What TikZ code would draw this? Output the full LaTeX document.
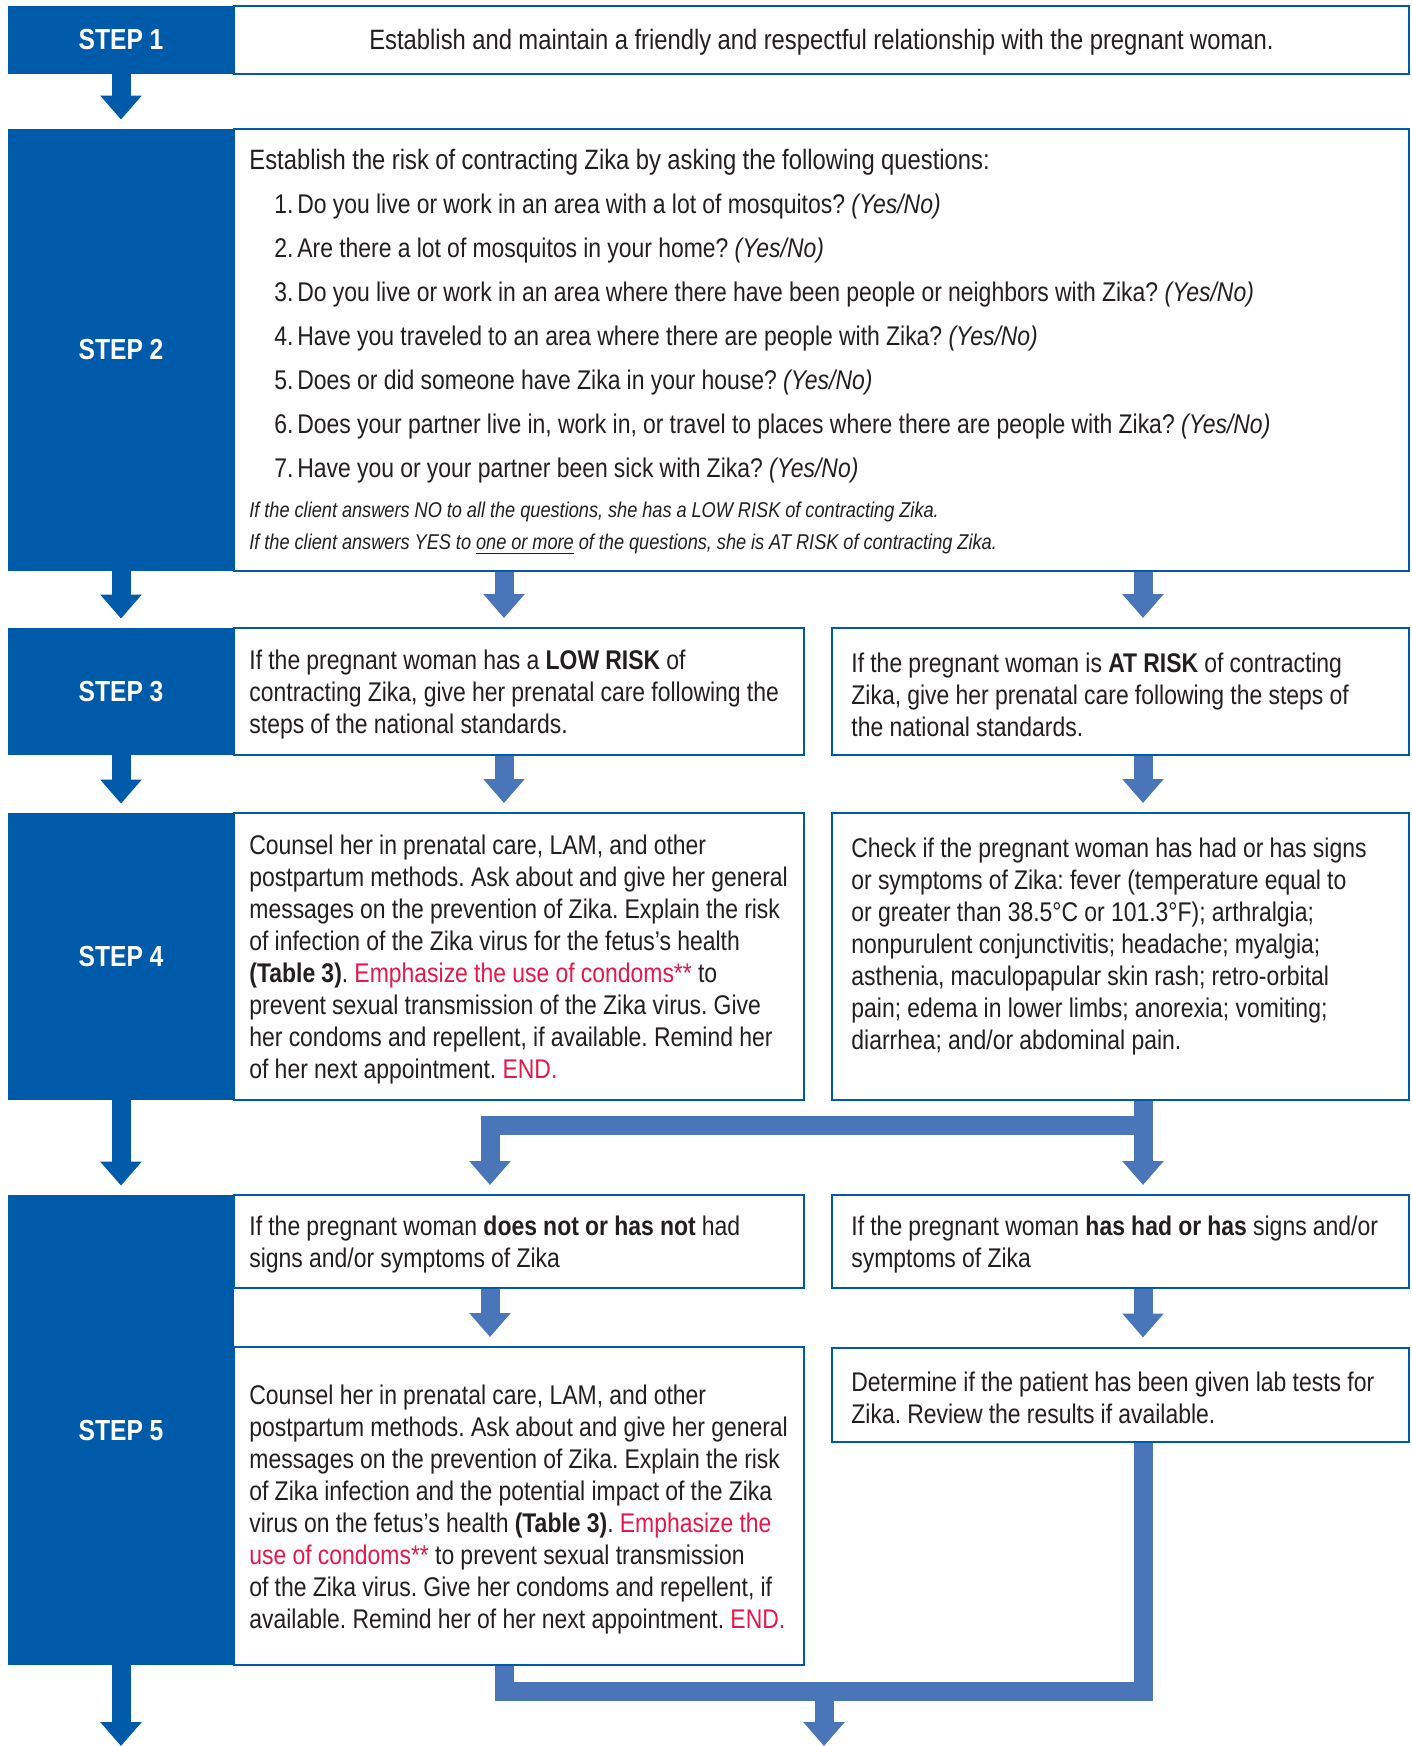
\documentclass[tikz,border=0pt]{standalone}
\usepackage{fontspec}
\setmainfont{Liberation Sans}[FakeStretch=0.85]
\usepackage{xcolor}
\usetikzlibrary{arrows.meta,positioning,calc}

\definecolor{stepblue}{RGB}{0,90,170}
\definecolor{arrowblue}{RGB}{75,117,185}
\definecolor{alertred}{RGB}{228,24,74}
\definecolor{bodytext}{RGB}{35,31,32}

\frenchspacing

\newcommand{\tightspace}{\spaceskip=0.23em plus 0.05em minus 0.03em\relax}
\newcommand{\bodyfont}{\fontsize{13.5pt}{16pt}\selectfont\tightspace}
\newcommand{\largefont}{\fontsize{14pt}{16pt}\selectfont\tightspace}
\newcommand{\stepfont}{\fontsize{14.5pt}{18pt}\selectfont\bfseries\tightspace}
\newcommand{\notefont}{\fontsize{10.7pt}{16pt}\selectfont\itshape\tightspace}
\newcommand{\redtxt}[1]{\textcolor{alertred}{#1}}
\newcommand{\yesno}{\textit{(Yes/No)}}
\newcommand{\question}[2]{\hspace*{12.5pt}\makebox[11.5pt][l]{#1.}#2}

\begin{document}
\begin{tikzpicture}[
    x=0.5pt, y=-0.5pt,
    every node/.style={text=bodytext, font=\bodyfont},
    stepcell/.style={fill=stepblue, text=white, font=\stepfont, minimum width=113pt, inner sep=0pt},
    infobox/.style={draw=stepblue, line width=1pt, fill=white, inner sep=0pt},
    leftbox/.style={infobox, minimum width=285pt},
    rightbox/.style={infobox, minimum width=288.5pt},
    boxtext/.style={align=left, inner sep=0pt},
    cellcopy/.style={boxtext, yshift=-1.75pt},
    darkarrow/.style={draw=stepblue, line width=9.5pt, -{Triangle[width=20pt,length=12pt]}, shorten >=4.5pt},
    lightarrow/.style={draw=arrowblue, line width=9.5pt, line join=miter, -{Triangle[width=20pt,length=12pt]}, shorten >=4.5pt},
    lightbar/.style={draw=arrowblue, line width=9.5pt, line join=miter}
]
\useasboundingbox (0,0) rectangle (1412,1746);

% columns and levels used by the connectors
\coordinate (colA) at (504,0);
\coordinate (colB) at (490,0);
\coordinate (colR) at (1143,0);
\coordinate (colM) at (824,0);
\coordinate (splitbar) at (0,1125.5);
\coordinate (joinbar) at (0,1691.5);
\coordinate (bottomedge) at (0,1746);

% boxes
\node[infobox, minimum width=587.5pt, minimum height=34pt] (b1) at (821.5,39.5) {};
\node[infobox, minimum width=587.5pt, minimum height=221pt] (b2) at (821.5,350) {};
\node[leftbox, minimum height=63.5pt] (b3l) at (519,691.5) {};
\node[rightbox, minimum height=63.5pt] (b3r) at (1120.5,691.5) {};
\node[leftbox, minimum height=143.5pt] (b4l) at (519,956.5) {};
\node[rightbox, minimum height=143.5pt] (b4r) at (1120.5,956.5) {};
\node[leftbox, minimum height=46.5pt] (b5al) at (519,1241.5) {};
\node[rightbox, minimum height=46.5pt] (b5ar) at (1120.5,1241.5) {};
\node[leftbox, minimum height=159pt] (b5bl) at (519,1506) {};
\node[rightbox, minimum height=47pt] (b5br) at (1120.5,1394.5) {};

% box texts
\node[boxtext, font=\largefont, yshift=-1.5pt] (b1-text) at (b1.center)
    {Establish and maintain a friendly and respectful relationship with the pregnant woman.};
\node[boxtext, right=8pt of b2.west, yshift=-1pt] (b2-text)
    {{\largefont Establish the risk of contracting Zika by asking the following questions:}\\[6pt]
     \question{1}{Do you live or work in an area with a lot of mosquitos? \yesno}\\[6pt]
     \question{2}{Are there a lot of mosquitos in your home? \yesno}\\[6pt]
     \question{3}{Do you live or work in an area where there have been people or neighbors with Zika? \yesno}\\[6pt]
     \question{4}{Have you traveled to an area where there are people with Zika? \yesno}\\[6pt]
     \question{5}{Does or did someone have Zika in your house? \yesno}\\[6pt]
     \question{6}{Does your partner live in, work in, or travel to places where there are people with Zika? \yesno}\\[6pt]
     \question{7}{Have you or your partner been sick with Zika? \yesno}\\[4pt]
     {\notefont If the client answers NO to all the questions, she has a LOW RISK of contracting Zika.}\\
     {\notefont If the client answers YES to \underline{one or more} of the questions, she is AT RISK of contracting Zika.}};

\node[cellcopy, right=8pt of b3l.west] (b3l-text)
    {If the pregnant woman has a \textbf{LOW RISK} of\\
     contracting Zika, give her prenatal care following the\\
     steps of the national standards.};
\node[cellcopy, right=10pt of b3r.west] (b3r-text)
    {If the pregnant woman is \textbf{AT RISK} of contracting\\
     Zika, give her prenatal care following the steps of\\
     the national standards.};

\node[cellcopy, right=8pt of b4l.west] (b4l-text)
    {Counsel her in prenatal care, LAM, and other\\
     postpartum methods. Ask about and give her general\\
     messages on the prevention of Zika. Explain the risk\\
     of infection of the Zika virus for the fetus's health\\
     \textbf{(Table 3)}. \redtxt{Emphasize the use of condoms**} to\\
     prevent sexual transmission of the Zika virus. Give\\
     her condoms and repellent, if available. Remind her\\
     of her next appointment. \redtxt{END.}};
\node[cellcopy, right=10pt of b4r.west] (b4r-text)
    {Check if the pregnant woman has had or has signs\\
     or symptoms of Zika: fever (temperature equal to\\
     or greater than 38.5°C or 101.3°F); arthralgia;\\
     nonpurulent conjunctivitis; headache; myalgia;\\
     asthenia, maculopapular skin rash; retro-orbital\\
     pain; edema in lower limbs; anorexia; vomiting;\\
     diarrhea; and/or abdominal pain.\\ \mbox{}};

\node[cellcopy, right=8pt of b5al.west] (b5al-text)
    {If the pregnant woman \textbf{does not or has not} had\\
     signs and/or symptoms of Zika};
\node[cellcopy, right=10pt of b5ar.west] (b5ar-text)
    {If the pregnant woman \textbf{has had or has} signs and/or\\
     symptoms of Zika};

\node[cellcopy, right=8pt of b5bl.west] (b5bl-text)
    {Counsel her in prenatal care, LAM, and other\\
     postpartum methods. Ask about and give her general\\
     messages on the prevention of Zika. Explain the risk\\
     of Zika infection and the potential impact of the Zika\\
     virus on the fetus's health \textbf{(Table 3)}. \redtxt{Emphasize the}\\
     \redtxt{use of condoms**} to prevent sexual transmission\\
     of the Zika virus. Give her condoms and repellent, if\\
     available. Remind her of her next appointment. \redtxt{END.}};
\node[cellcopy, right=10pt of b5br.west] (b5br-text)
    {Determine if the patient has been given lab tests for\\
     Zika. Review the results if available.};

% step column
\node[stepcell, minimum height=34pt] (s1) at (121,39.5) {STEP 1};
\node[stepcell, minimum height=221pt] (s2) at (121,350) {STEP 2};
\node[stepcell, minimum height=63.5pt] (s3) at (121,691.5) {STEP 3};
\node[stepcell, minimum height=143.5pt] (s4) at (121,956.5) {STEP 4};
\node[stepcell, minimum height=235pt] (s5) at (121,1430) {STEP 5};

% step arrows
\draw[darkarrow] (s1.south) -- (s2.north);
\draw[darkarrow] (s2.south) -- (s3.north);
\draw[darkarrow] (s3.south) -- (s4.north);
\draw[darkarrow] (s4.south) -- (s5.north);
\draw[darkarrow, shorten >=0pt] (s5.south) -- (s5.south |- bottomedge);

% flow arrows
\draw[lightarrow] (b2.south -| colA) -- (b3l.north -| colA);
\draw[lightarrow] (b2.south -| colR) -- (b3r.north -| colR);
\draw[lightarrow] (b3l.south -| colA) -- (b4l.north -| colA);
\draw[lightarrow] (b3r.south -| colR) -- (b4r.north -| colR);
\draw[lightarrow] (b4r.south -| colR) -- (b5ar.north -| colR);
\draw[lightarrow] (b4r.south -| colR) -- (colR |- splitbar) -- (colB |- splitbar) -- (b5al.north -| colB);
\draw[lightarrow] (b5al.south -| colB) -- (b5bl.north -| colB);
\draw[lightarrow] (b5ar.south -| colR) -- (b5br.north -| colR);
\draw[lightbar] (b5bl.south -| colA) -- (colA |- joinbar) -- (colR |- joinbar) -- (b5br.south -| colR);
\draw[lightarrow, shorten >=0pt] (colM |- joinbar) -- (colM |- bottomedge);
\end{tikzpicture}
\end{document}
